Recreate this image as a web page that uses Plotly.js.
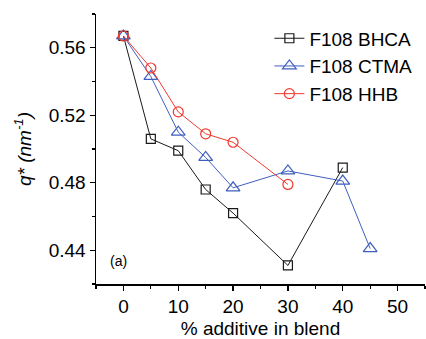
<!DOCTYPE html>
<html>
<head>
<meta charset="utf-8">
<script src="https://cdn.plot.ly/plotly-3.0.1.min.js"></script>
<style>html,body{margin:0;padding:0;background:#fff;}#chart{width:426px;height:339px;}</style>
</head>
<body>
<div id="chart"></div>
<script>
var bhcaX = [0, 5, 10, 15, 20, 30, 40];
var bhcaY = [0.567, 0.506, 0.499, 0.476, 0.462, 0.431, 0.489];
var ctmaX = [0, 5, 10, 15, 20, 30, 40, 45];
var ctmaY = [0.567, 0.543, 0.510, 0.495, 0.477, 0.487, 0.481, 0.441];
var hhbX = [0, 5, 10, 15, 20, 30];
var hhbY = [0.567, 0.548, 0.522, 0.509, 0.504, 0.479];
var names = ['F108 BHCA', 'F108 CTMA', 'F108 HHB'];
var xTicks = [0, 10, 20, 30, 40, 50];
var yTicks = [0.44, 0.48, 0.52, 0.56];
var yTickText = ['0.44', '0.48', '0.52', '0.56'];

var FONT = 'Liberation Sans, Arial, sans-serif';
var traces = [
  {x: bhcaX, y: bhcaY, name: names[0], mode: 'lines+markers', type: 'scatter',
   line: {color: '#1a1a1a', width: 1},
   marker: {symbol: 'square-open', size: 9, color: '#1a1a1a', line: {width: 1.2}}},
  {x: ctmaX, y: ctmaY, name: names[1], mode: 'lines+markers', type: 'scatter',
   line: {color: '#3f5fbf', width: 1},
   marker: {symbol: 'triangle-up-open', size: 12, color: '#3f5fbf', line: {width: 1.2}}},
  {x: hhbX, y: hhbY, name: names[2], mode: 'lines+markers', type: 'scatter',
   line: {color: '#f03a2e', width: 1},
   marker: {symbol: 'circle-open', size: 10, color: '#f03a2e', line: {width: 1.2}}}
];

var layout = {
  width: 426, height: 339,
  margin: {l: 96, r: 1, t: 14, b: 55, pad: 0},
  paper_bgcolor: '#fff', plot_bgcolor: '#fff',
  font: {family: FONT, size: 19, color: '#000'},
  showlegend: true,
  legend: {x: 0.527, y: 0.98, xanchor: 'left', yanchor: 'top', bgcolor: 'rgba(0,0,0,0)',
           font: {family: FONT, size: 19, color: '#000'}, tracegroupgap: 0},
  xaxis: {
    range: [-5, 55], tickvals: xTicks, ticks: 'outside', ticklen: 5, tickwidth: 1.2, tickcolor: '#000',
    minor: {dtick: 5, tick0: 0, ticks: 'outside', ticklen: 3, tickwidth: 1.2, tickcolor: '#000', showgrid: false},
    showline: true, linecolor: '#000', linewidth: 1.5, showgrid: false, zeroline: false,
    tickfont: {family: FONT, size: 19},
    title: {text: '% additive in blend', font: {family: FONT, size: 19}, standoff: 10}
  },
  yaxis: {
    range: [0.42, 0.58], tickvals: yTicks, ticktext: yTickText, ticks: 'outside', ticklen: 5, tickwidth: 1.2, tickcolor: '#000',
    minor: {dtick: 0.02, tick0: 0.42, ticks: 'outside', ticklen: 3, tickwidth: 1.2, tickcolor: '#000', showgrid: false},
    showline: true, linecolor: '#000', linewidth: 1.5, showgrid: false, zeroline: false,
    tickfont: {family: FONT, size: 19},
    title: {text: '<i>q* (nm<sup>-1</sup>)</i>', font: {family: FONT, size: 19}, standoff: 12}
  },
  annotations: [
    {text: '(a)', xref: 'paper', yref: 'paper', x: 0.036, y: 0.085, xanchor: 'left', yanchor: 'middle',
     showarrow: false, font: {family: FONT, size: 14, color: '#000'}}
  ]
};

Plotly.newPlot('chart', traces, layout, {displayModeBar: false, staticPlot: true});
</script>
</body>
</html>
